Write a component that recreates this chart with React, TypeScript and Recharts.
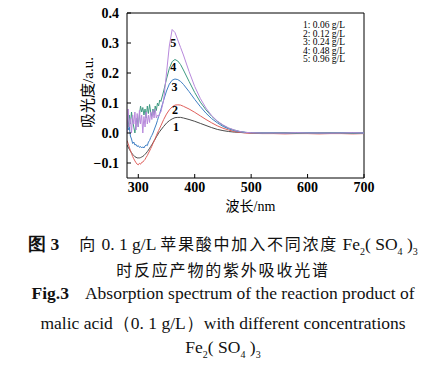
import React from 'react';
import { LineChart, Line, XAxis, YAxis, ReferenceLine, ReferenceDot } from 'recharts';

const wavelengths = [
  280, 282, 284, 286, 288, 290, 292, 294, 296, 298, 300, 302, 304, 306, 308, 310,
  312, 314, 316, 318, 320, 322, 324, 326, 328, 330, 332, 334, 336, 338, 340,
  345, 350, 355, 360, 365, 370, 375, 380, 390, 400, 410, 420, 430, 440, 450,
  460, 470, 480, 490, 500, 520, 540, 560, 580, 600, 620, 640, 660, 680, 700,
];

const s1 = [
  -0.04, -0.047, -0.054, -0.06, -0.066, -0.071, -0.075, -0.079, -0.081, -0.083, -0.083, -0.083, -0.082, -0.08, -0.078, -0.075,
  -0.071, -0.067, -0.062, -0.057, -0.051, -0.045, -0.039, -0.033, -0.026, -0.02, -0.013, -0.007, 0.0, 0.005, 0.01,
  0.022, 0.033, 0.041, 0.047, 0.051, 0.052, 0.052, 0.05, 0.045, 0.039, 0.032, 0.025, 0.018, 0.012, 0.008,
  0.005, 0.003, 0.002, 0.001, 0, 0, -0.001, 0, 0, -0.001, 0, 0, -0.001, 0, 0,
];
const s2 = [
  -0.025, -0.035, -0.047, -0.058, -0.068, -0.078, -0.086, -0.093, -0.099, -0.104, -0.106, -0.101, -0.104, -0.098, -0.097, -0.092,
  -0.088, -0.081, -0.075, -0.067, -0.06, -0.052, -0.044, -0.035, -0.027, -0.018, -0.009, 0.0, 0.008, 0.016, 0.024,
  0.045, 0.063, 0.077, 0.087, 0.093, 0.094, 0.093, 0.089, 0.08, 0.069, 0.057, 0.045, 0.034, 0.024, 0.016,
  0.01, 0.005, 0.002, 0, -0.001, -0.002, -0.002, -0.003, -0.002, -0.002, -0.003, -0.002, -0.002, -0.003, -0.002,
];
const s3 = [
  0.03, 0.01, 0.02, -0.01, -0.02, -0.035, -0.03, -0.04, -0.038, -0.045, -0.042, -0.048, -0.045, -0.05, -0.046, -0.05,
  -0.043, -0.04, -0.042, -0.03, -0.025, -0.015, -0.008, 0.0, 0.01, 0.02, 0.03, 0.042, 0.055, 0.065, 0.078,
  0.11, 0.14, 0.163, 0.176, 0.18, 0.178, 0.172, 0.162, 0.138, 0.112, 0.088, 0.066, 0.048, 0.034, 0.022,
  0.014, 0.008, 0.004, 0.002, 0.001, 0, 0.001, 0, 0, 0.001, 0, 0, 0.001, 0, 0,
];
const s4 = [
  0.04, 0.02, 0.06, 0.03, 0.07, 0.04, 0.02, 0.0, 0.03, 0.05, 0.02, 0.06, 0.09, 0.07, 0.085, 0.06,
  0.08, 0.05, 0.09, 0.065, 0.095, 0.07, 0.055, 0.08, 0.06, 0.09, 0.075, 0.1, 0.09, 0.11, 0.105,
  0.14, 0.18, 0.215, 0.238, 0.245, 0.24, 0.228, 0.21, 0.172, 0.135, 0.103, 0.077, 0.056, 0.039, 0.026,
  0.016, 0.01, 0.005, 0.002, 0.001, 0, 0, 0.001, 0, 0, 0, 0.001, 0, 0, 0,
];
const s5 = [
  0.0, 0.08, 0.02, 0.05, 0.0, 0.06, 0.03, 0.07, 0.01, 0.065, 0.02, 0.075, 0.03, 0.06, 0.0, 0.055,
  0.02, 0.07, 0.03, 0.06, 0.035, 0.07, 0.045, 0.075, 0.05, 0.08, 0.05, 0.06, 0.055, 0.065, 0.07,
  0.11, 0.2, 0.29, 0.345, 0.335, 0.31, 0.285, 0.26, 0.205, 0.155, 0.115, 0.083, 0.058, 0.04, 0.027,
  0.017, 0.01, 0.005, 0.002, 0.001, 0, 0, 0, 0.001, 0, 0, 0, 0, 0.001, 0,
];

const seriesNames = ['1: 0.06 g/L', '2: 0.12 g/L', '3: 0.24 g/L', '4: 0.48 g/L', '5: 0.96 g/L'];
const seriesColors = ['#4a4a4a', '#e0605c', '#3f7fc4', '#3f9a82', '#b889dc'];
const curveTags = [
  { tag: '1', x: 367, y: 0.02 },
  { tag: '2', x: 365, y: 0.078 },
  { tag: '3', x: 364, y: 0.153 },
  { tag: '4', x: 362, y: 0.222 },
  { tag: '5', x: 362, y: 0.3 },
];
const xTicks = [300, 400, 500, 600, 700];
const yTicks = [-0.1, 0, 0.1, 0.2, 0.3, 0.4];

const data = wavelengths.map((w, i) => ({ w, s1: s1[i], s2: s2[i], s3: s3[i], s4: s4[i], s5: s5[i] }));
const keys = ['s1', 's2', 's3', 's4', 's5'];

const serif = '"Liberation Serif", "Times New Roman", serif';
const cjk = '"Noto Sans CJK SC", sans-serif';

const YTick = (props: any) => {
  const { x, y, payload } = props;
  const v = payload.value;
  const txt = v < 0 ? '\u2212' + Math.abs(v).toFixed(1) : v.toFixed(1);
  return (
    <g>
      <line x1={127} x2={131} y1={y} y2={y} stroke="#000" />
      <text x={x} y={y} dy={5} textAnchor="end" fontSize={14} fontWeight="bold" fontFamily={serif} fill="#000">{txt}</text>
    </g>
  );
};

const XTick = (props: any) => {
  const { x, payload } = props;
  return (
    <g>
      <line x1={x} x2={x} y1={178} y2={174} stroke="#000" />
      <text x={x} y={192} textAnchor="middle" fontSize={14} fontWeight="bold" fontFamily={serif} fill="#000">{payload.value}</text>
    </g>
  );
};

const capStyle: React.CSSProperties = { position: 'absolute', left: 0, width: 446, textAlign: 'center', color: '#111', whiteSpace: 'nowrap' };
const subStyle: React.CSSProperties = { fontSize: 10 };

const App: React.FC = () => {
  return (
    <div style={{ position: 'absolute', left: 0, top: 0, width: 446, height: 368, background: '#fff' }}>
      <LineChart width={446} height={216} data={data} margin={{ top: 13, right: 82, left: 87, bottom: 18 }}>
        <XAxis
          dataKey="w" type="number" domain={[280, 700]} ticks={xTicks} allowDataOverflow
          height={20} tickLine={false} axisLine={{ stroke: '#000' }} tick={<XTick />}
          label={{
            content: (p: any) => (
              <text x={p.viewBox.x + p.viewBox.width / 2 + 5} y={210.5} textAnchor="middle" fontSize={14} fill="#000">
                <tspan fontFamily={cjk}>波长</tspan><tspan fontFamily={serif}>/nm</tspan>
              </text>
            ),
          }}
        />
        <YAxis
          type="number" domain={[-0.15, 0.4]} ticks={yTicks} allowDataOverflow
          width={40} tickLine={false} axisLine={{ stroke: '#000' }} tick={<YTick />}
          label={{
            content: (p: any) => {
              const cx = p.viewBox.x + 6;
              const cy = p.viewBox.y + p.viewBox.height / 2 - 3;
              return (
                <text x={cx} y={cy} textAnchor="middle" fontSize={15} fill="#000" transform={`rotate(-90 ${cx} ${cy})`}>
                  <tspan fontFamily={cjk}>吸光度</tspan><tspan fontFamily={serif}>/a.u.</tspan>
                </text>
              );
            },
          }}
        />
        <ReferenceLine y={0.4} stroke="#000" />
        <ReferenceLine x={700} stroke="#000" />
        {keys.map((k, i) => (
          <Line
            key={k} dataKey={k} name={seriesNames[i]} type="linear" stroke={seriesColors[i]}
            strokeWidth={1} dot={false} isAnimationActive={false}
          />
        ))}
        {curveTags.map((t) => (
          <ReferenceDot
            key={t.tag} x={t.x} y={t.y} r={0} stroke="none"
            label={{ value: t.tag, position: 'center', fontSize: 12, fontFamily: serif, fontWeight: 'bold', fill: '#000' }}
          />
        ))}
      </LineChart>
      <div style={{ position: 'absolute', left: 303, top: 21, fontFamily: serif, fontSize: 9.5, lineHeight: '8.6px', color: '#000', whiteSpace: 'nowrap' }}>
        {seriesNames.map((n) => <div key={n}>{n}</div>)}
      </div>
      <div style={{ ...capStyle, top: 231, fontSize: 16, fontFamily: cjk }}>
        <b style={{ fontFamily: serif, fontSize: 17.5 }}>图 3</b>
        <span style={{ marginLeft: 20, letterSpacing: 1.8 }}>向</span>
        <span style={{ fontFamily: serif, fontSize: 17.5 }}> 0. 1 g/L </span>
        <span style={{ letterSpacing: 1.8 }}>苹果酸中加入不同浓度</span>
        <span style={{ fontFamily: serif, fontSize: 17.5 }}> Fe<sub style={subStyle}>2</sub>( SO<sub style={subStyle}>4</sub> )<sub style={subStyle}>3</sub></span>
      </div>
      <div style={{ ...capStyle, top: 257, fontSize: 16, fontFamily: cjk, letterSpacing: 1.8 }}>
        时反应产物的紫外吸收光谱
      </div>
      <div style={{ ...capStyle, top: 283, fontSize: 17.5, fontFamily: serif }}>
        <b>Fig.3</b><span style={{ marginLeft: 16 }}>Absorption spectrum of the reaction product of</span>
      </div>
      <div style={{ ...capStyle, top: 311, fontSize: 17.5, fontFamily: serif }}>
        malic acid（0. 1 g/L）with different concentrations
      </div>
      <div style={{ ...capStyle, top: 337, fontSize: 17.5, fontFamily: serif }}>
        Fe<sub style={subStyle}>2</sub>( SO<sub style={subStyle}>4</sub> )<sub style={subStyle}>3</sub>
      </div>
    </div>
  );
};

export default App;
